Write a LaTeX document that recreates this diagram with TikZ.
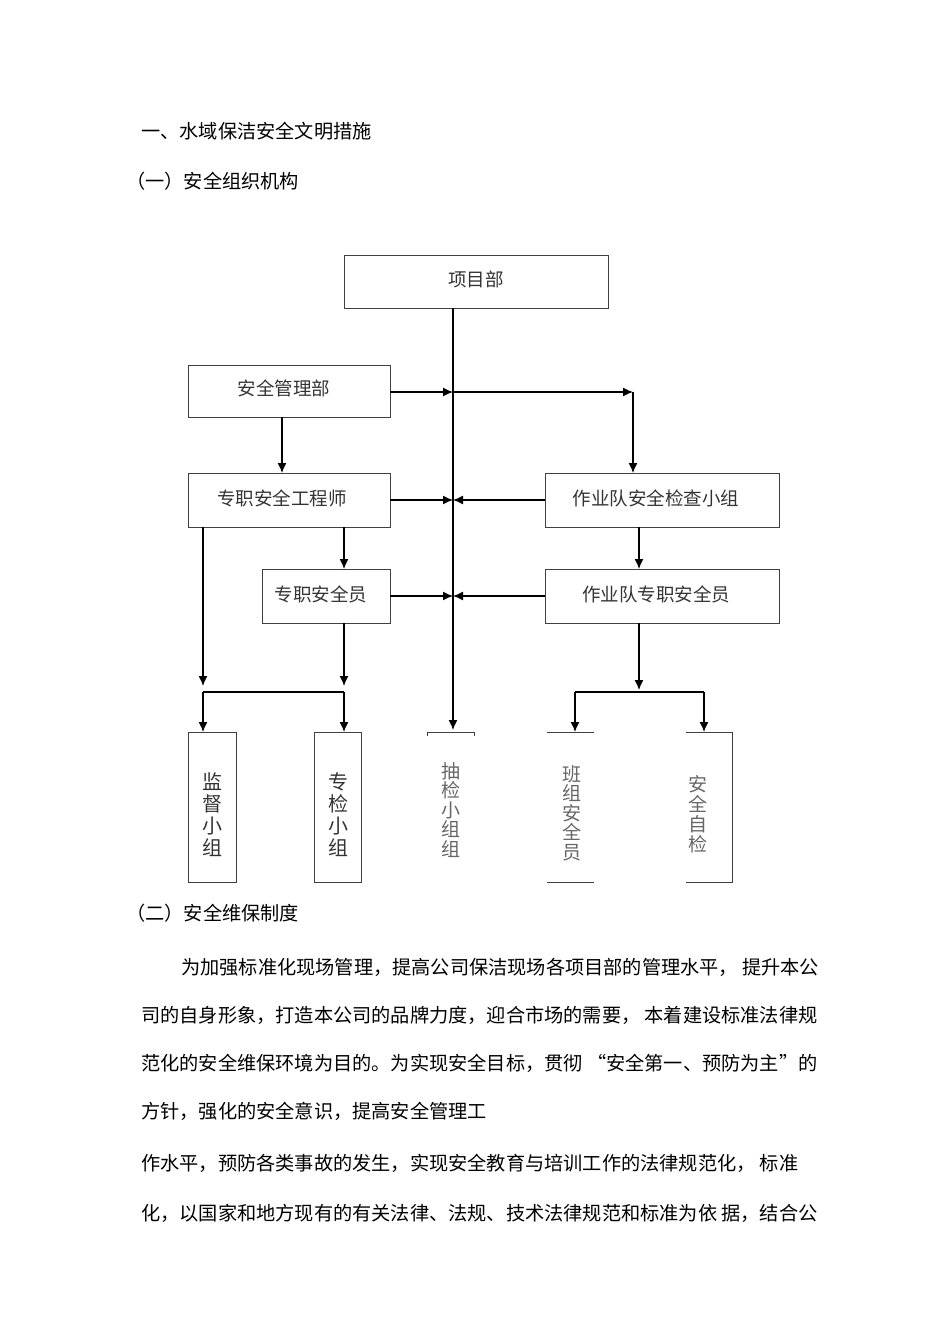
\documentclass[tikz,border=0pt]{standalone}
\usepackage{fontspec}
\newfontfamily\cjk{Noto Sans CJK SC}
\usetikzlibrary{arrows.meta}
\begin{document}
\begin{tikzpicture}[x=1pt,y=-1pt,
 box/.style={draw=black!75,line width=0.9pt,inner sep=0pt},
 lbl/.style={font=\cjk\fontsize{18.5}{18.5}\selectfont,text=black!80},
 txt/.style={font=\cjk\fontsize{19.2}{19.2}\selectfont,anchor=west,inner sep=0pt},
 arr/.style={line width=1.3pt,-{Latex[length=10pt,width=9pt]}},
 ln/.style={line width=1.3pt}]
\useasboundingbox (0,0) rectangle (950,1344);
\node[txt] (t1) at (141,131) {一、水域保洁安全文明措施};
\node[txt] (t2) at (126,181) {（一）安全组织机构};
% boxes
\draw[box] (344,255) rectangle (608,308); \node[lbl] (xm) at (476,279) {项目部};
\coordinate (xmB) at (453,308);
\draw[box] (188,365) rectangle (390,417); \node[lbl] (aq) at (284,388) {安全管理部};
\draw[box] (188,473) rectangle (390,527); \node[lbl] (gc) at (282,498) {专职安全工程师};
\draw[box] (545,473) rectangle (779,527); \node[lbl] (jc) at (656,498) {作业队安全检查小组};
\draw[box] (262,569) rectangle (390,623); \node[lbl] (zy) at (321,594) {专职安全员};
\draw[box] (545,569) rectangle (779,623); \node[lbl] (zz) at (656,594) {作业队专职安全员};
% central
\draw[arr] (xmB) -- (453,730);
\draw[arr] (390,392) -- (453,392);
\draw[arr] (453,392) -- (633,392);
\draw[arr] (633,392) -- (633,473);
\draw[arr] (282,417) -- (282,473);
\draw[arr] (390,500) -- (453,500);
\draw[arr] (545,500) -- (453,500);
\draw[arr] (390,596) -- (453,596);
\draw[arr] (545,596) -- (453,596);
\draw[arr] (344,527) -- (344,569);
\draw[arr] (639,527) -- (639,569);
% left bottom
\draw[arr] (203,527) -- (203,686);
\draw[arr] (344,623) -- (344,686);
\draw[ln] (203,692) -- (344,692);
\draw[arr] (203,692) -- (203,732);
\draw[arr] (344,692) -- (344,732);
% right bottom
\draw[arr] (639,623) -- (639,690);
\draw[ln] (575,692) -- (704,692);
\draw[arr] (575,692) -- (575,732);
\draw[arr] (704,692) -- (704,732);
% bottom boxes
\draw[box] (188,732) rectangle (236,882);
\node[lbl,align=center,font=\cjk\fontsize{20}{22}\selectfont] (jd) at (212,815) {监\\督\\小\\组};
\draw[box] (314,732) rectangle (361,882);
\node[lbl,align=center,font=\cjk\fontsize{20}{22}\selectfont] (zj) at (338,815) {专\\检\\小\\组};
\draw[box] (427,736) -- (427,732) -- (474,732) -- (474,736);
\node[lbl,align=center,font=\cjk\fontsize{19}{19.5}\selectfont,text=black!60] (cj) at (451,810) {抽\\检\\小\\组\\组};
\draw[box] (547,732) -- (594,732); \draw[box] (547,882) -- (594,882);
\node[lbl,align=center,font=\cjk\fontsize{19}{19.5}\selectfont,text=black!60] (bz) at (572,813) {班\\组\\安\\全\\员};
\draw[box] (686,732) -- (732,732) -- (732,882) -- (686,882);
\node[lbl,align=center,font=\cjk\fontsize{19}{20}\selectfont,text=black!60] (zj2) at (698,814) {安\\全\\自\\检};
% text
\node[txt] (t3) at (126,913) {（二）安全维保制度};
\node[txt] (p1) at (181,967) {为加强标准化现场管理，提高公司保洁现场各项目部的管理水平，\ 提升本公};
\node[txt] (p2) at (141,1015) {司的自身形象，打造本公司的品牌力度，迎合市场的需要，\ 本着建设标准法律规};
\node[txt] (p3) at (141,1063) {范化的安全维保环境为目的。为实现安全目标，贯彻 “安全第一、预防为主”的};
\node[txt] (p4) at (141,1111) {方针，强化的安全意识，提高安全管理工};
\node[txt] (p5) at (141,1163) {作水平，预防各类事故的发生，实现安全教育与培训工作的法律规范化，\ 标准};
\node[txt] (p6) at (141,1213) {化，以国家和地方现有的有关法律、法规、技术法律规范和标准为依\ 据，结合公};
\end{tikzpicture}
\end{document}
